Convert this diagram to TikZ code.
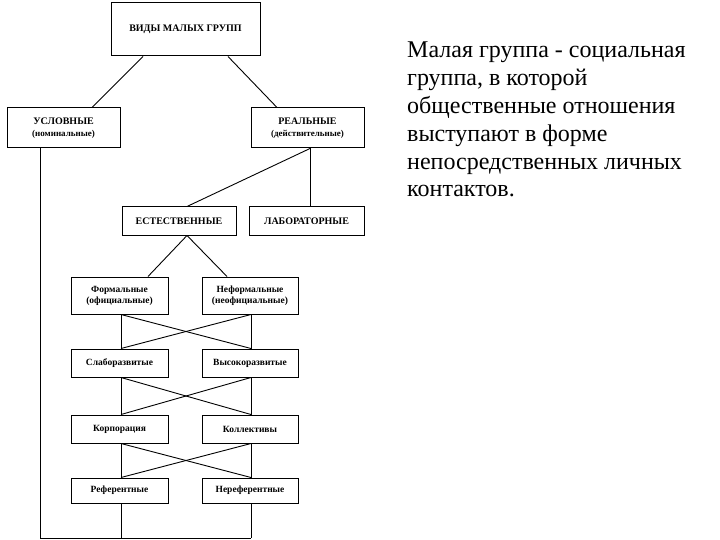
\documentclass[tikz,border=0pt]{standalone}
\usepackage{fontspec}
\setmainfont{Liberation Serif}
\begin{document}
\begin{tikzpicture}[x=1pt,y=-1pt,
  bx/.style={draw,line width=1pt,inner sep=0pt,align=center,font=\fontsize{9.5}{11}\selectfont\bfseries},
  bc/.style={bx,font=\fontsize{10}{11.5}\selectfont\bfseries},
  ln/.style={line width=0.9pt}]
\useasboundingbox (0,0) rectangle (720,540);
\node[bc,minimum width=149,minimum height=53] (top) at (185.5,29.5) {ВИДЫ МАЛЫХ ГРУПП};
\node[bc,minimum width=113,minimum height=40] (usl) at (63.5,128) {УСЛОВНЫЕ\\{\fontsize{9}{11}\selectfont(номинальные)}};
\node[bc,minimum width=113,minimum height=40] (real) at (307.5,128) {РЕАЛЬНЫЕ\\{\fontsize{9}{11}\selectfont(действительные)}};
\node[bc,minimum width=114,minimum height=28] (est) at (179,221) {ЕСТЕСТВЕННЫЕ};
\node[bc,minimum width=115,minimum height=28] (lab) at (306.5,221) {ЛАБОРАТОРНЫЕ};
\node[bx,minimum width=97,minimum height=37] (f1) at (119.5,295.5) {Формальные\\(официальные)};
\node[bx,minimum width=96,minimum height=37] (f2) at (250,295.5) {Неформальные\\(неофициальные)};
\node[bx,minimum width=97,minimum height=28] (s1) at (119.5,363) {Слаборазвитые};
\node[bx,minimum width=96,minimum height=28] (s2) at (250,363) {Высокоразвитые};
\node[bx,minimum width=97,minimum height=28] (k1) at (119.5,429) {Корпорация};
\node[bx,minimum width=96,minimum height=28] (k2) at (250,429) {Коллективы};
\node[bx,minimum width=97,minimum height=25] (r1) at (119.5,490.5) {Референтные};
\node[bx,minimum width=96,minimum height=25] (r2) at (250,490.5) {Нереферентные};
\coordinate (bl) at (40,538);
\coordinate (bm) at (121,538);
\coordinate (br) at (251,538);
\draw[ln] (top.south -| 143,0) -- (usl.north -| 92,0);
\draw[ln] (top.south -| 228,0) -- (real.north -| 277,0);
\draw[ln] (real.south -| 310,0) -- (est.north -| 187,0);
\draw[ln] (real.south -| 310,0) -- (lab.north -| 310,0);
\draw[ln] (est.south -| 187,0) -- (f1.north -| 148,0);
\draw[ln] (est.south -| 187,0) -- (f2.north -| 227,0);
\draw[ln] (usl.south -| 40,0) -- (bl) -- (br);
\foreach \a/\b/\c/\d in {f1/f2/s1/s2,s1/s2/k1/k2,k1/k2/r1/r2}{
  \draw[ln] (\a.south -| 121,0) -- (\c.north -| 121,0);
  \draw[ln] (\b.south -| 251,0) -- (\d.north -| 251,0);
  \draw[ln] (\a.south -| 121,0) -- (\d.north -| 251,0);
  \draw[ln] (\b.south -| 251,0) -- (\c.north -| 121,0);
}
\draw[ln] (r1.south -| 121,0) -- (bm);
\draw[ln] (r2.south -| 251,0) -- (br);
\node[anchor=north west,align=left,inner sep=0pt,font=\fontsize{24}{27.8}\selectfont] (txt) at (407,42)
{Малая группа - социальная\\группа, в которой\\общественные отношения\\выступают в форме\\непосредственных личных\\контактов.};
\end{tikzpicture}
\end{document}
